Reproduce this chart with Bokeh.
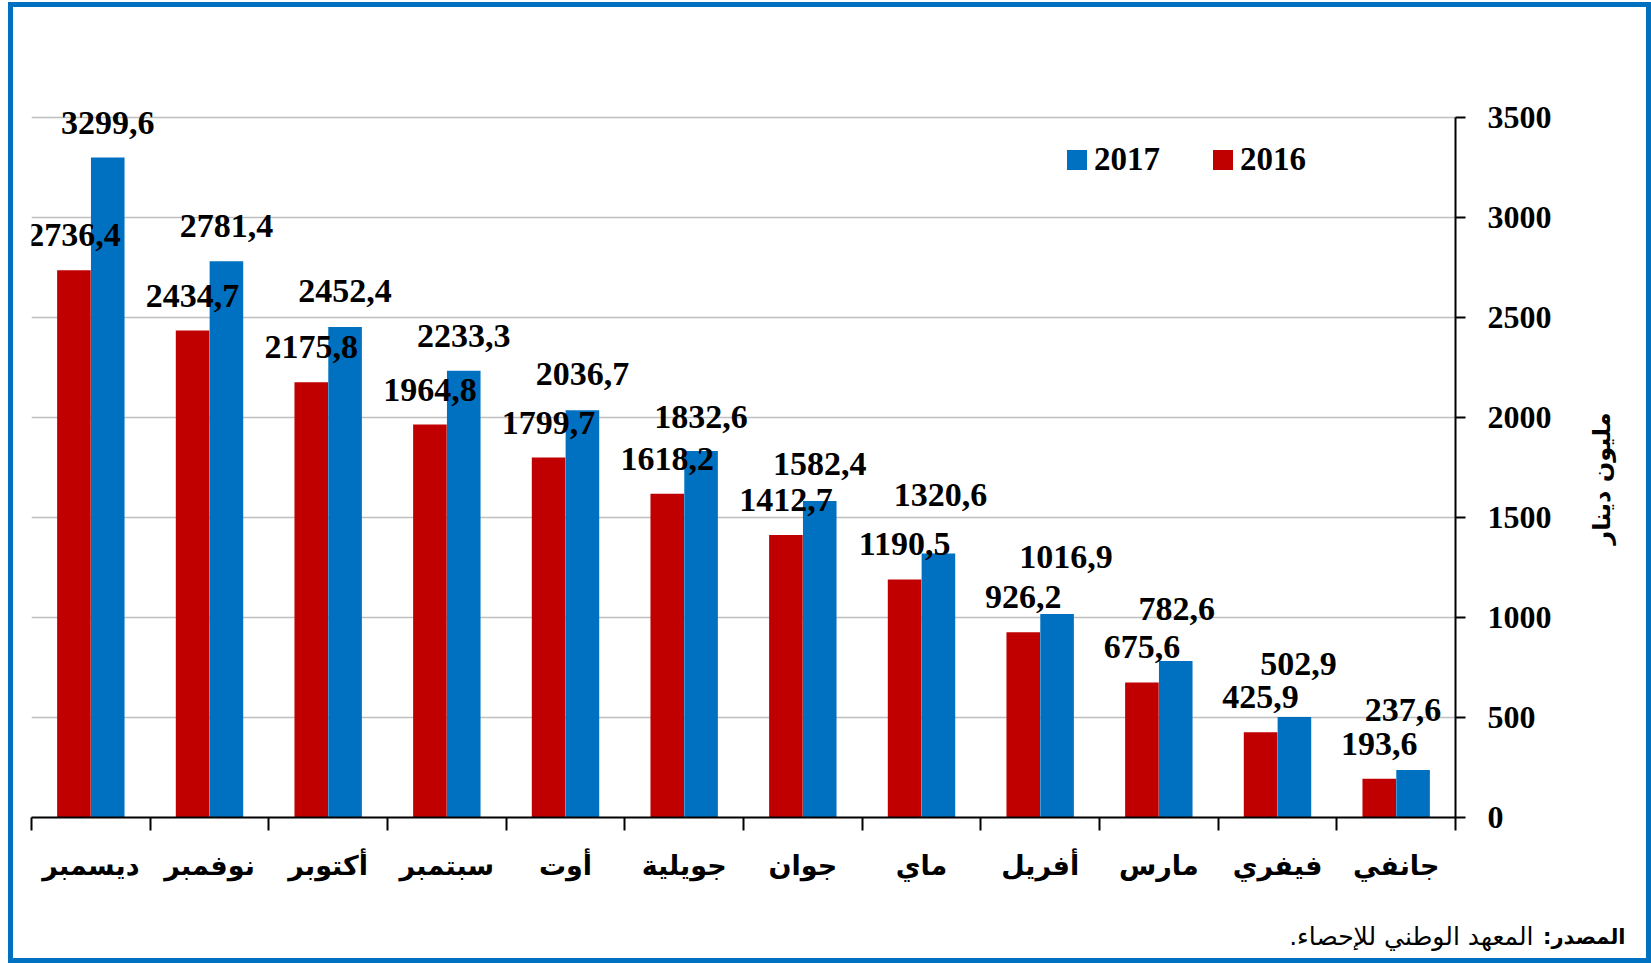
from math import pi
from bokeh.plotting import figure
from bokeh.models import (Range1d, FixedTicker, ColumnDataSource, Legend, LegendItem, Label)
from bokeh.core.properties import value
from bokeh.embed import file_html
from bokeh.resources import INLINE

# ---- data (month order Jan..Dec; chart drawn right-to-left) ----
months = ["جانفي", "فيفري", "مارس", "أفريل", "ماي", "جوان",
          "جويلية", "أوت", "سبتمبر", "أكتوبر", "نوفمبر", "ديسمبر"]
v2016 = [193.6, 425.9, 675.6, 926.2, 1190.5, 1412.7,
         1618.2, 1799.7, 1964.8, 2175.8, 2434.7, 2736.4]
v2017 = [237.6, 502.9, 782.6, 1016.9, 1320.6, 1582.4,
         1832.6, 2036.7, 2233.3, 2452.4, 2781.4, 3299.6]
series_names = ["2017", "2016"]
y_ticks = [0, 500, 1000, 1500, 2000, 2500, 3000, 3500]
y_title = "مليون دينار"
source_bold = "المصدر:\u200f"
source_text = "المعهد الوطني للإحصاء.\u200f"

# label placement tweaks (screen px, as in the original layout)
lift16 = [-35] * 12
lift17 = [-60, -53, -52, -57, -58, -37, -34, -36, -35, -36, -35, -35]
shift17 = [-10, 4, 1, 9, 2, 0, 0, 0, 0, 0, 0, 0]

RED = "#C00000"
BLUE = "#0070C0"
SERIF = "Liberation Serif"
ARAB = "DejaVu Sans"

n = len(months)
pos = list(range(1, n + 1))
off = 0.1425
bw = 0.283

def fmt(v):
    return f"{v:.1f}".replace(".", ",")

src16 = ColumnDataSource(dict(x=[p_ + off for p_ in pos], y=v2016, t=[fmt(v) for v in v2016],
                              dy=lift16, dx=[0] * n))
src17 = ColumnDataSource(dict(x=[p_ - off for p_ in pos], y=v2017, t=[fmt(v) for v in v2017],
                              dy=lift17, dx=shift17))

# canvas is shifted inside the page so that the blue frame (CSS outline) sits around it
OX, OY = 13, 7
W, H = 1651 - OX - 5, 963 - OY - 5
FL, FR, FT, FB = 31 - OX, 1455 - OX, 17 - OY, 817 - OY   # frame edges in canvas px

p = figure(width=W, height=H, output_backend="svg", toolbar_location=None,
           x_range=Range1d(n + 0.5, 0.5), y_range=Range1d(0, 4000),
           y_axis_location="right",
           min_border_left=FL, min_border_right=W - FR, min_border_top=FT, min_border_bottom=H - FB)
p.outline_line_color = None
p.background_fill_color = "white"
p.border_fill_color = "white"
p.styles = {"position": "relative", "left": f"{OX}px", "top": f"{OY}px",
            "outline": f"5px solid {BLUE}", "outline-offset": "0px"}

r16 = p.vbar(x="x", top="y", width=bw, source=src16, fill_color=RED, line_color=None)
r17 = p.vbar(x="x", top="y", width=bw, source=src17, fill_color=BLUE, line_color=None)

for s in (src16, src17):
    p.text(x="x", y="y", text="t", source=s, text_align="center", text_baseline="middle",
           x_offset="dx", y_offset="dy", text_font=value(SERIF), text_font_style="bold",
           text_font_size="34px", text_color="black")

# y axis
ya = p.yaxis[0]
ya.ticker = FixedTicker(ticks=y_ticks)
ya.bounds = (0, 3500)
ya.axis_line_color = "black"
ya.axis_line_width = 2
ya.major_tick_line_color = "black"
ya.major_tick_line_width = 2
ya.major_tick_out = 10
ya.major_tick_in = 0
ya.minor_tick_line_color = None
ya.major_label_text_font = SERIF
ya.major_label_text_font_style = "bold"
ya.major_label_text_font_size = "32px"
ya.major_label_text_color = "black"
ya.major_label_standoff = 22

# x axis
xa = p.xaxis[0]
xa.ticker = FixedTicker(ticks=pos, minor_ticks=[i + 0.5 for i in range(0, n + 1)])
xa.major_label_overrides = {p_: m for p_, m in zip(pos, months)}
xa.axis_line_color = "black"
xa.axis_line_width = 2
xa.major_tick_out = 0
xa.major_tick_in = 0
xa.major_tick_line_color = None
xa.minor_tick_line_color = "black"
xa.minor_tick_line_width = 2
xa.minor_tick_out = 13
xa.minor_tick_in = 0
xa.major_label_text_font = ARAB
xa.major_label_text_font_style = "bold"
xa.major_label_text_font_size = "27px"
xa.major_label_text_color = "black"
xa.major_label_standoff = 19

p.xgrid.grid_line_color = None
p.ygrid.ticker = FixedTicker(ticks=y_ticks)
p.ygrid.grid_line_color = "#BFBFBF"
p.ygrid.grid_line_width = 1.5

legend = Legend(items=[LegendItem(label=series_names[0], renderers=[r17]),
                       LegendItem(label=series_names[1], renderers=[r16])],
                orientation="horizontal", location=(1033, 639),
                glyph_width=25, glyph_height=25, label_standoff=5, spacing=50,
                padding=0, margin=0, border_line_color=None, background_fill_alpha=0,
                label_text_font=SERIF, label_text_font_style="bold",
                label_text_font_size="33px", label_text_color="black")
p.add_layout(legend, "center")

def px_to_x(px):   # page px -> data x
    return (n + 0.5) - (px - 31) / ((1455 - 31) / n)

def py_to_y(py):   # page px -> data y
    return (817 - py) / 0.2

# axis title (right side, rotated, reads bottom-to-top)
p.add_layout(Label(x=px_to_x(1601), y=py_to_y(478), text=y_title, angle=pi / 2,
                   text_align="center", text_baseline="middle",
                   text_font=ARAB, text_font_style="bold", text_font_size="24px",
                   text_color="black"), "right")

# source note
p.add_layout(Label(x=px_to_x(1625), y=py_to_y(936), text=source_bold,
                   text_align="right", text_baseline="middle",
                   text_font=ARAB, text_font_style="bold", text_font_size="21px",
                   text_color="black"), "below")
p.add_layout(Label(x=px_to_x(1533), y=py_to_y(936), text=source_text,
                   text_align="right", text_baseline="middle",
                   text_font=ARAB, text_font_style="normal", text_font_size="25px",
                   text_color="black"), "below")

open("out.html", "w").write(file_html(p, INLINE))
